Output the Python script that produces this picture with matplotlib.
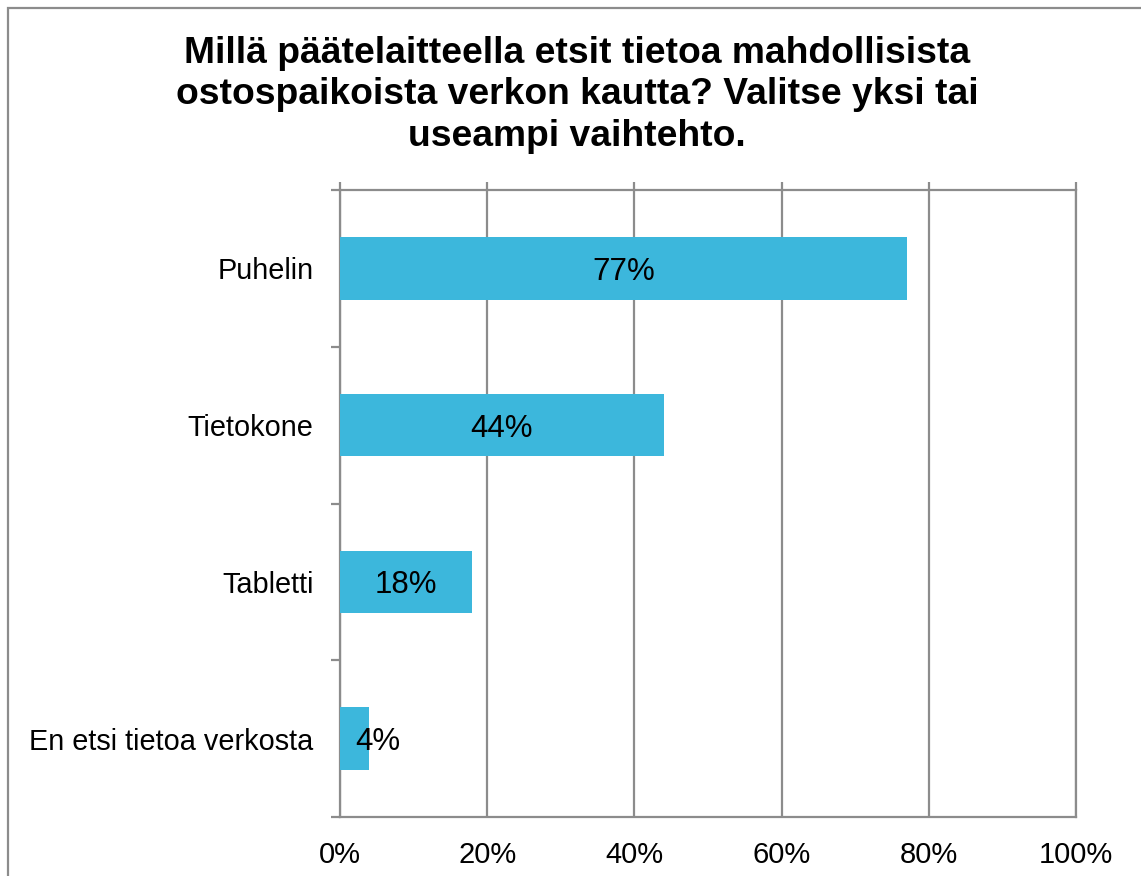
import matplotlib
matplotlib.use("Agg")
import matplotlib.pyplot as plt
from matplotlib.patches import Rectangle
from matplotlib.ticker import FixedLocator

categories = ["Puhelin", "Tietokone", "Tabletti", "En etsi tietoa verkosta"]
values = [77, 44, 18, 4]
x_ticks = [0, 20, 40, 60, 80, 100]
x_tick_labels = ["0%", "20%", "40%", "60%", "80%", "100%"]
title_lines = ["Millä päätelaitteella etsit tietoa mahdollisista",
               "ostospaikoista verkon kautta? Valitse yksi tai",
               "useampi vaihtehto."]

bar_color = "#3CB7DC"
grid_color = "#8C8C8C"
font = "Liberation Sans"

plt.rcParams["font.family"] = [font, "DejaVu Sans"]

W, H = 1141, 876
fig = plt.figure(figsize=(W / 100, H / 100), dpi=100)
fig.patch.set_facecolor("white")

# chart frame, running off the right and bottom edges
fig.add_artist(Rectangle((8 / W, -0.1), 1.2, 1.1 - 8 / H,
                         transform=fig.transFigure, fill=False,
                         edgecolor=grid_color, linewidth=1.6, zorder=0))

ax = fig.add_axes([340 / W, (H - 817) / H, 736 / W, (817 - 190) / H])

pos = list(range(len(categories)))
ax.barh(pos, values, height=0.4, color=bar_color, zorder=3)

ax.set_xlim(0, 100)
ax.set_ylim(len(categories) - 0.5, -0.5)

ax.set_xticks(x_ticks)
ax.set_xticklabels(x_tick_labels, fontsize=21)
ax.set_yticks(pos)
ax.set_yticklabels(categories, fontsize=20.8)
ax.yaxis.set_minor_locator(FixedLocator([p - 0.5 for p in pos] + [pos[-1] + 0.5]))

ax.tick_params(axis="x", top=True, bottom=False, labeltop=False, labelbottom=True,
               direction="out", length=6, width=1.6, color=grid_color, pad=11.5)
ax.tick_params(axis="y", which="major", length=0, pad=19)
ax.tick_params(axis="y", which="minor", length=6.5, width=1.6, color=grid_color,
               direction="out")

ax.grid(axis="x", color=grid_color, linewidth=1.6, zorder=1)
for s in ax.spines.values():
    s.set_color(grid_color)
    s.set_linewidth(1.6)

for p, v in zip(pos, values):
    ax.text(max(v / 2, 5.2), p, f"{v}%", ha="center", va="center_baseline",
            fontsize=22.5, color="black", zorder=4)

for i, line in enumerate(title_lines):
    fig.text(577 / W, 1 - (63 + 41.5 * i) / H, line, ha="center", va="baseline",
             fontsize=26.8, fontweight="bold")

fig.savefig("out.png", dpi=100)
